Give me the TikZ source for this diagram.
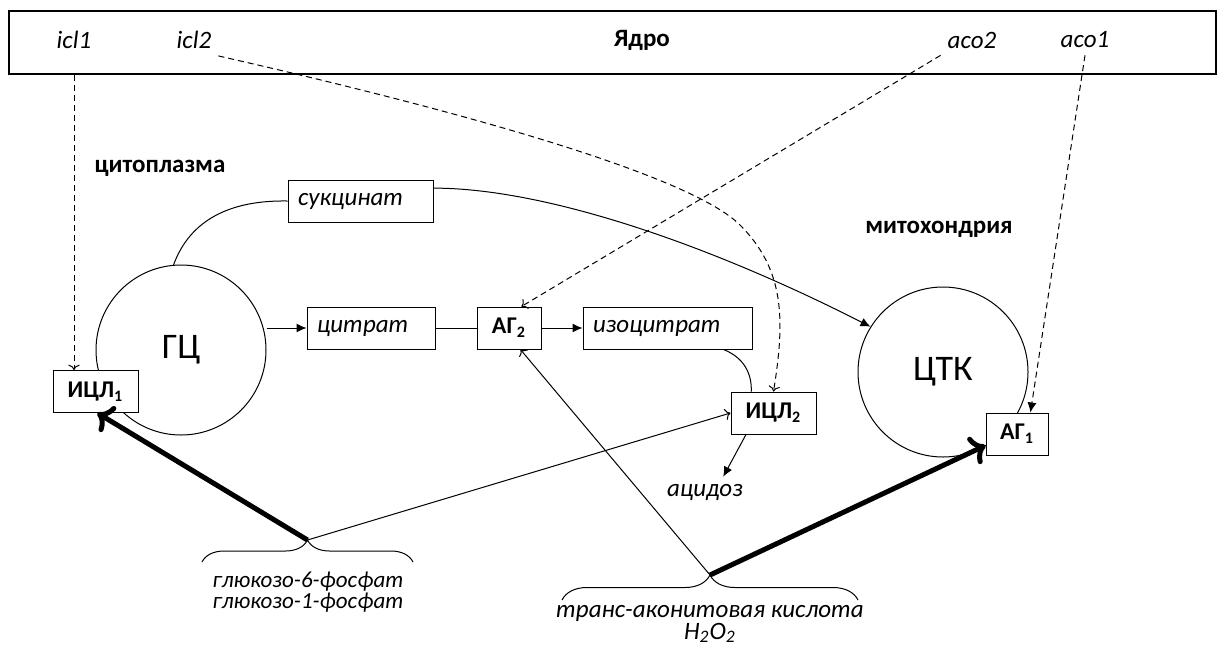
\documentclass[tikz,border=0pt]{standalone}
\usepackage{fontspec}
\setmainfont{Carlito}
\usetikzlibrary{arrows.meta,decorations.pathreplacing}

\begin{document}
\begin{tikzpicture}[x=0.5pt, y=-0.5pt, line width=0.5pt, % one unit = one pixel of the sketch
    lbl/.style={font=\itshape\fontsize{12.5}{14}\selectfont},
    ttl/.style={font=\bfseries\fontsize{12.5}{14}\selectfont},
    sub/.style={draw, fill=white, minimum height=21pt, inner xsep=5pt, inner ysep=0pt,
      text width=#1, align=left, font=\itshape\fontsize{12.5}{14}\selectfont},
    enz/.style={draw, fill=white, minimum height=21pt, minimum width=#1, inner sep=0pt,
      font=\bfseries\fontsize{12}{14}\selectfont},
    ring/.style={circle, draw, minimum size=85pt, inner sep=0pt,
      font=\fontsize{18}{20}\selectfont},
    gene/.style={densely dashed, ->}, % gene -> enzyme
    fwd/.style={-{Latex[length=5pt,width=4.5pt]}},
    heavy/.style={line width=2.5pt, ->}
%    ,every node/.style={draw=red}
   ]
    \useasboundingbox (0,0) rectangle (1219,649);

    % nucleus
    \node[draw, line width=0.8pt, minimum width=603.5pt, minimum height=31.5pt, inner sep=0pt]
      (nucleus) at (612.5,42.5) {};
    \node[lbl] (icl1) at (74,40) {icl1};
    \node[lbl] (icl2) at (194,40) {icl2};
    \node[ttl] (core) at (642,40) {Ядро};
    \node[lbl] (aco2) at (972,40) {aco2};
    \node[lbl] (aco1) at (1085,40) {aco1};

    \node[ttl] (cyto) at (160,168) {цитоплазма};
    \node[ttl] (mito) at (939,229) {митохондрия};

    % cycles and intermediates
    \node[ring] (gc) at (181,350) {ГЦ};
    \node[ring] (tca) at (943,372) {ЦТК};
    \node[sub=62.5pt] (succ) at (360.5,201) {сукцинат};
    \node[sub=54pt] (citr) at (371,328) {цитрат};
    \node[enz=32pt] (ag2) at (509,328) {АГ\textsubscript{2}};
    \node[sub=74.5pt] (isoc) at (667.5,328) {изоцитрат};
    \node[enz=42.5pt] (ic1) at (95.5,391.5) {ИЦЛ\textsubscript{1}};
    \node[enz=42.5pt] (ic2) at (773.5,413) {ИЦЛ\textsubscript{2}};
    \node[enz=31pt] (ag1) at (1017,434) {АГ\textsubscript{1}};
    \node[lbl] (acid) at (705,492) {ацидоз};

    % effectors
    \coordinate (g1) at (202,562);
    \coordinate (g2) at (413,562);
    \coordinate (gtip) at (307.5,540);
    \draw[decorate, decoration={brace, amplitude=11pt}] (g1) -- (g2);
    \node[lbl, align=center, font=\itshape\fontsize{11.5}{10.5}\selectfont] (gluc) at (308,592)
      {глюкозо-6-фосфат\\глюкозо-1-фосфат};
    \coordinate (t1) at (562,600);
    \coordinate (t2) at (858,600);
    \coordinate (ttip) at (710,575);
    \draw[decorate, decoration={brace, amplitude=12.5pt}] (t1) -- (t2);
    \node[lbl, align=center, inner sep=1pt, font=\itshape\fontsize{12.5}{11}\selectfont] (acon)
      at (710,624) {транс-аконитовая кислота\\H\textsubscript{2}O\textsubscript{2}};

    % expression
    \draw[gene] (icl1 |- nucleus.south) -- (icl1 |- ic1.north);
    \draw[gene] (icl2.south east) .. controls (500,120) and (695,180) .. (740,225)
      .. controls (785,270) and (785,320) .. (ic2.north);
    \draw[gene] (aco2.south west) -- (ag2.60);
    \draw[gene, fwd] (aco1.south) -- (ag1.58);

    % pathway
    \draw[fwd] (gc.east |- citr.west) -- (citr.west);
    \draw (citr) -- (ag2);
    \draw[fwd] (ag2) -- (isoc);
    \draw (gc.95) .. controls (190,220) and (230,200) .. (succ.west);
    \draw[fwd] (succ.10) .. controls (540,188) and (700,240) .. (tca.148);
    \draw (isoc.-21) .. controls (745,358) and (752,375) .. (ic2.136);
    \draw[fwd] (ic2.-142) -- (acid.40);

    % regulation
    \draw[heavy] (gtip) -- (ic1.-85);
    \draw[->] (gtip) -- (ic2.west);
    \draw[->] (ttip) -- (ag2.-62);
    \draw[heavy] (ttip) -- (ag1.200);
  \end{tikzpicture}
\end{document}
